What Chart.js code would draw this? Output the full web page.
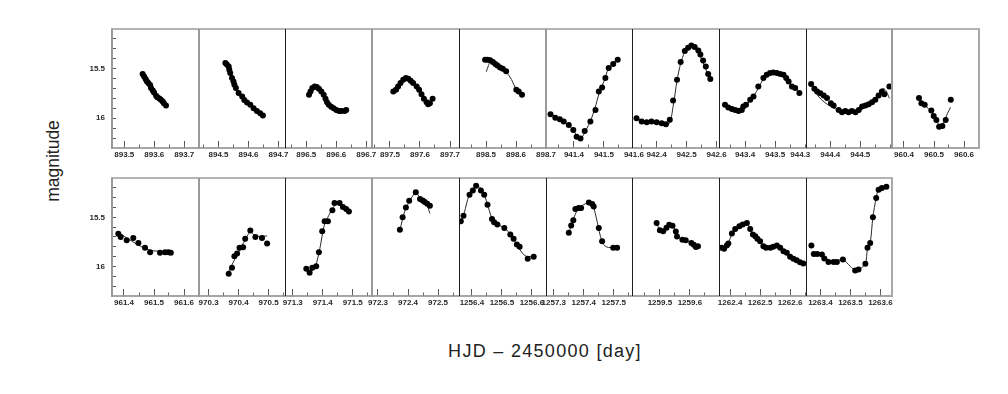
<!DOCTYPE html>
<html><head><meta charset="utf-8">
<script src="https://cdn.jsdelivr.net/npm/chart.js@4.4.1/dist/chart.umd.min.js"></script>
<style>
html,body{margin:0;padding:0;background:#fff;}
#wrap{position:relative;width:1008px;height:394px;overflow:hidden;background:#fff;font-family:"Liberation Sans",Arial,sans-serif;}
#wrap canvas{position:absolute;}
#ylab{position:absolute;left:52.5px;top:161px;transform:translate(-50%,-50%) rotate(-90deg);font-size:17.5px;color:#222;white-space:nowrap;}
#xlab{position:absolute;left:545px;top:351px;transform:translate(-50%,-50%);font-size:18px;letter-spacing:1.3px;color:#222;white-space:nowrap;}
</style></head><body>
<div id="wrap"><div id="ylab">magnitude</div><div id="xlab">HJD – 2450000 [day]</div></div>
<script>
// ---------- data (HJD - 2450000, magnitude) ----------
const t_893 = [893.561,893.566,893.571,893.575,893.580,893.586,893.589,893.595,893.599,893.606,893.610,893.617,893.622,893.628,893.632,893.639];
const m_893 = [15.554,15.578,15.604,15.628,15.645,15.665,15.695,15.720,15.740,15.773,15.787,15.801,15.814,15.831,15.848,15.872];

const t_894 = [894.523,894.528,894.534,894.536,894.539,894.545,894.550,894.553,894.558,894.567,894.579,894.586,894.595,894.606,894.617,894.628,894.639,894.648];
const m_894 = [15.442,15.459,15.477,15.510,15.544,15.594,15.629,15.662,15.696,15.746,15.781,15.815,15.842,15.865,15.899,15.926,15.949,15.973];

const t_896 = [896.509,896.514,896.520,896.528,896.535,896.542,896.550,896.558,896.564,896.569,896.575,896.583,896.591,896.600,896.609,896.617,896.628,896.633];
const m_896 = [15.764,15.730,15.696,15.680,15.686,15.703,15.730,15.764,15.804,15.838,15.865,15.883,15.899,15.916,15.926,15.926,15.926,15.916];

const t_897 = [897.511,897.520,897.527,897.535,897.544,897.553,897.561,897.569,897.577,897.589,897.597,897.605,897.613,897.622,897.627,897.633,897.642];
const m_897 = [15.730,15.713,15.680,15.645,15.612,15.594,15.601,15.622,15.645,15.680,15.713,15.757,15.804,15.838,15.858,15.848,15.804];

const t_898 = [898.497,898.505,898.514,898.523,898.531,898.538,898.547,898.556,898.567,898.601,898.609,898.620];
const m_898 = [15.409,15.409,15.416,15.432,15.452,15.467,15.487,15.500,15.527,15.713,15.730,15.764];
const ft_898 = [898.501,898.508,898.514,898.523,898.538,898.556,898.567,898.585,898.601,898.620];
const fm_898 = [15.53,15.47,15.43,15.43,15.465,15.50,15.53,15.61,15.71,15.77];

const t_941 = [941.322,941.338,941.353,941.366,941.383,941.398,941.409,941.422,941.436,941.455,941.472,941.483,941.494,941.505,941.516,941.531,941.546];
const m_941 = [15.959,15.994,16.010,16.034,16.068,16.119,16.187,16.203,16.129,16.034,15.916,15.730,15.690,15.594,15.493,15.452,15.409];
const ft_941 = [941.322,941.350,941.380,941.400,941.415,941.425,941.440,941.455,941.470,941.485,941.500,941.515,941.530,941.546];
const fm_941 = [15.96,16.01,16.06,16.13,16.20,16.20,16.12,16.03,15.90,15.74,15.63,15.50,15.45,15.41];

const t_942 = [942.333,942.350,942.367,942.383,942.400,942.417,942.431,942.444,942.455,942.468,942.480,942.494,942.505,942.516,942.527,942.539,942.546,942.555,942.564,942.572,942.579];
const m_942 = [16.000,16.034,16.040,16.034,16.040,16.051,16.061,16.014,15.820,15.613,15.434,15.323,15.289,15.266,15.282,15.317,15.357,15.418,15.479,15.553,15.604];
const ft_942 = [942.333,942.360,942.400,942.440,942.455,942.468,942.480,942.494,942.510,942.525,942.540,942.555,942.570,942.579];
const fm_942 = [16.00,16.04,16.05,16.06,15.88,15.62,15.45,15.33,15.27,15.27,15.34,15.44,15.55,15.62];

const t_943 = [943.333,943.344,943.356,943.367,943.378,943.389,943.394,943.403,943.417,943.428,943.444,943.461,943.472,943.483,943.494,943.506,943.517,943.528,943.537,943.545,943.556,943.567,943.581];
const m_943 = [15.865,15.892,15.906,15.916,15.926,15.916,15.882,15.865,15.814,15.781,15.680,15.594,15.561,15.544,15.538,15.544,15.554,15.561,15.594,15.629,15.680,15.696,15.746];
const ft_943 = [943.333,943.360,943.380,943.400,943.430,943.460,943.480,943.500,943.520,943.540,943.560,943.581];
const fm_943 = [15.86,15.91,15.92,15.88,15.77,15.61,15.55,15.54,15.56,15.61,15.68,15.74];

const t_944 = [944.336,944.347,944.356,944.367,944.378,944.389,944.402,944.411,944.428,944.439,944.450,944.461,944.472,944.484,944.495,944.506,944.517,944.528,944.539,944.550,944.561,944.572,944.580,944.597];
const m_944 = [15.655,15.703,15.730,15.747,15.771,15.797,15.848,15.872,15.916,15.939,15.926,15.939,15.926,15.939,15.916,15.882,15.872,15.858,15.838,15.814,15.771,15.730,15.757,15.680];
const ft_944 = [944.336,944.350,944.370,944.390,944.420,944.450,944.480,944.510,944.540,944.560,944.575,944.585,944.597];
const fm_944 = [15.66,15.74,15.81,15.86,15.91,15.94,15.94,15.90,15.84,15.76,15.70,15.72,15.80];

const t_960 = [960.450,960.458,960.469,960.491,960.499,960.508,960.517,960.528,960.539,960.556];
const m_960 = [15.797,15.848,15.865,15.923,15.977,16.017,16.085,16.078,16.017,15.814];
const ft_960 = [960.450,960.470,960.490,960.510,960.520,960.530,960.545,960.555];
const fm_960 = [15.80,15.87,15.93,16.03,16.08,16.06,15.95,15.89];

const t_961 = [961.381,961.389,961.409,961.431,961.448,961.470,961.487,961.520,961.537,961.548,961.556];
const m_961 = [15.668,15.699,15.734,15.710,15.760,15.810,15.855,15.861,15.855,15.855,15.861];
const ft_961 = [961.378,961.481,961.559];
const fm_961 = [15.65,15.83,15.845];

const t_970 = [970.367,970.378,970.386,970.395,970.403,970.415,970.422,970.439,970.456,970.478,970.495];
const m_970 = [16.074,16.013,15.896,15.868,15.810,15.804,15.719,15.635,15.699,15.709,15.767];
const ft_970 = [970.367,970.395,970.420,970.439,970.456,970.495];
const fm_970 = [16.05,15.88,15.74,15.65,15.69,15.69];

const t_971 = [971.345,971.356,971.365,971.378,971.387,971.398,971.406,971.417,971.432,971.439,971.456,971.467,971.478,971.487];
const m_971 = [16.023,16.064,16.013,15.997,15.855,15.642,15.541,15.541,15.429,15.354,15.354,15.395,15.416,15.440];
const ft_971 = [971.345,971.360,971.375,971.390,971.405,971.420,971.435,971.450,971.465,971.487];
const fm_971 = [16.02,16.05,16.00,15.82,15.58,15.48,15.40,15.35,15.37,15.44];

const t_972 = [972.373,972.382,972.393,972.404,972.426,972.440,972.449,972.456,972.464,972.473];
const m_972 = [15.625,15.500,15.399,15.331,15.246,15.313,15.328,15.344,15.361,15.381];
const ft_972 = [972.373,972.390,972.410,972.426,972.440,972.460,972.473];
const fm_972 = [15.63,15.43,15.31,15.25,15.30,15.35,15.46];

const t_1256 = [1256.363,1256.372,1256.392,1256.403,1256.414,1256.430,1256.441,1256.452,1256.467,1256.474,1256.485,1256.508,1256.528,1256.539,1256.550,1256.559,1256.586,1256.606];
const m_1256 = [15.541,15.483,15.270,15.226,15.179,15.226,15.270,15.371,15.516,15.551,15.574,15.608,15.675,15.719,15.777,15.800,15.922,15.902];
const ft_1256 = [1256.363,1256.375,1256.390,1256.410,1256.425,1256.440,1256.455,1256.470,1256.490,1256.510,1256.530,1256.550,1256.570,1256.585,1256.606];
const fm_1256 = [15.56,15.45,15.28,15.19,15.19,15.26,15.40,15.53,15.58,15.61,15.68,15.78,15.87,15.90,15.89];

const t_1257 = [1257.350,1257.358,1257.365,1257.372,1257.383,1257.391,1257.417,1257.428,1257.433,1257.450,1257.461,1257.498,1257.511];
const m_1257 = [15.658,15.584,15.530,15.415,15.405,15.405,15.348,15.364,15.389,15.608,15.743,15.810,15.810];
const ft_1257 = [1257.350,1257.365,1257.380,1257.400,1257.420,1257.430,1257.445,1257.460,1257.475,1257.511];
const fm_1257 = [15.66,15.52,15.42,15.37,15.35,15.37,15.55,15.74,15.80,15.81];

const t_1259 = [1259.489,1259.500,1259.511,1259.522,1259.531,1259.542,1259.553,1259.557,1259.575,1259.586,1259.605,1259.613,1259.620,1259.627];
const m_1259 = [15.557,15.632,15.642,15.605,15.575,15.585,15.643,15.694,15.727,15.734,15.761,15.778,15.801,15.795];

const t_1262 = [1262.372,1262.380,1262.389,1262.394,1262.406,1262.417,1262.431,1262.442,1262.456,1262.467,1262.476,1262.484,1262.491,1262.500,1262.511,1262.520,1262.534,1262.544,1262.556,1262.567,1262.578,1262.589,1262.600,1262.611,1262.622,1262.633,1262.644];
const m_1262 = [15.810,15.820,15.787,15.767,15.665,15.618,15.591,15.574,15.557,15.618,15.675,15.693,15.719,15.743,15.794,15.810,15.810,15.800,15.787,15.810,15.845,15.861,15.902,15.922,15.937,15.957,15.970];

const t_1263 = [1263.370,1263.378,1263.389,1263.405,1263.413,1263.427,1263.444,1263.455,1263.475,1263.516,1263.527,1263.550,1263.557,1263.566,1263.575,1263.586,1263.594,1263.605,1263.620];
const m_1263 = [15.787,15.872,15.872,15.878,15.919,15.953,15.953,15.953,15.929,16.041,16.031,15.973,15.810,15.760,15.500,15.303,15.219,15.202,15.189];
const ft_1263 = [1263.378,1263.410,1263.440,1263.475,1263.500,1263.516,1263.530,1263.550,1263.557,1263.566,1263.575,1263.586,1263.594,1263.620];
const fm_1263 = [15.87,15.90,15.95,15.93,16.00,16.04,16.03,15.97,15.82,15.76,15.50,15.30,15.22,15.19];

// axis ranges / tick labels
const xStart = [893.459,894.435,896.429,897.440,898.410,941.307,942.318,943.313,944.319,960.360,
                961.360,970.268,971.274,972.280,1256.357,1257.274,1259.407,1262.363,1263.352];
const xTickLabels = [[893.5,893.6,893.7],[894.5,894.6,894.7],[896.5,896.6,896.7],[897.5,897.6,897.7],[898.5,898.6,898.7],
  [941.4,941.5,941.6],[942.4,942.5,942.6],[943.4,943.5],[944.3,944.4,944.5],[960.4,960.5,960.6],
  [961.4,961.5,961.6],[970.3,970.4,970.5],[971.3,971.4,971.5],[972.3,972.4,972.5],[1256.4,1256.5,1256.6],
  [1257.3,1257.4,1257.5],[1259.5,1259.6],[1262.4,1262.5,1262.6],[1263.4,1263.5,1263.6]];
const yRange = [15.1, 16.3];
const yTickValues = [15.2,15.3,15.4,15.5,15.6,15.7,15.8,15.9,16.0,16.1,16.2];
const yTickLabels = [15.5, 16];

// ---------- layout ----------
const panels = [
  [t_893,m_893,null,null],[t_894,m_894,null,null],[t_896,m_896,null,null],[t_897,m_897,null,null],[t_898,m_898,ft_898,fm_898],
  [t_941,m_941,ft_941,fm_941],[t_942,m_942,ft_942,fm_942],[t_943,m_943,ft_943,fm_943],[t_944,m_944,ft_944,fm_944],[t_960,m_960,ft_960,fm_960],
  [t_961,m_961,ft_961,fm_961],[t_970,m_970,ft_970,fm_970],[t_971,m_971,ft_971,fm_971],[t_972,m_972,ft_972,fm_972],[t_1256,m_1256,ft_1256,fm_1256],
  [t_1257,m_1257,ft_1257,fm_1257],[t_1259,m_1259,null,null],[t_1262,m_1262,null,null],[t_1263,m_1263,ft_1263,fm_1263]
];
const rowOf = i => i < 10 ? 0 : 1;
const colOf = i => i < 10 ? i : i - 10;
const rowCount = [10, 9];
const edgeStyle = ['g','g','d','g','d','g','d','d','d','g', 'g','g','d','g','d','d','d','d','d'];

const ROW_TOP = [29, 178], ROW_H = [119, 118];
const LEFT0 = 112, COLW = 86.7, PX_PER_DAY = 300;
const PADL = 45, YAXW = 40, PADR = 30, PADT = 6, XAXH = 24;
const FONT = {family: "'Liberation Sans', Arial, sans-serif", size: 8, weight: 'bold'};

const framePlugin = {
  id: 'frame',
  afterDraw(chart) {
    const o = chart.options.plugins.frame;
    const a = chart.chartArea, c = chart.ctx;
    c.save();
    c.lineCap = 'butt';
    c.strokeStyle = '#b4b4b4'; c.lineWidth = 2;
    c.beginPath(); c.moveTo(a.left - 1, a.top); c.lineTo(a.right + 1, a.top); c.stroke();
    c.strokeStyle = '#8a8a8a'; c.lineWidth = 1.6;
    c.beginPath(); c.moveTo(a.left, a.bottom); c.lineTo(a.right, a.bottom); c.stroke();
    if (o.edge === 'g') { c.strokeStyle = '#9a9a9a'; c.lineWidth = 2; c.beginPath(); c.moveTo(a.left, a.top); c.lineTo(a.left, a.bottom + 1); c.stroke(); }
    else { c.strokeStyle = '#1e1e1e'; c.lineWidth = 1; c.beginPath(); c.moveTo(a.left + 0.5, a.top); c.lineTo(a.left + 0.5, a.bottom); c.stroke(); }
    if (o.last) { c.strokeStyle = '#a8a8a8'; c.lineWidth = 2; c.beginPath(); c.moveTo(a.right, a.top); c.lineTo(a.right, a.bottom + 1); c.stroke(); }
    c.restore();
  }
};

const zeroPad = s => { s.paddingLeft = 0; s.paddingRight = 0; s.paddingTop = 0; s.paddingBottom = 0; };
const wrap = document.getElementById('wrap');

panels.forEach((p, i) => {
  const row = rowOf(i), col = colOf(i);
  const L = Math.round(LEFT0 + col * COLW), R = Math.round(LEFT0 + (col + 1) * COLW);
  const w = R - L, T = ROW_TOP[row], h = ROW_H[row];
  const xmin = xStart[i], xmax = xStart[i] + w / PX_PER_DAY;
  const cv = document.createElement('canvas');
  cv.width = w + PADL + PADR; cv.height = h + PADT + XAXH;
  cv.style.left = (L - PADL) + 'px'; cv.style.top = (T - PADT) + 'px';
  wrap.appendChild(cv);

  const [tt, mm, ft, fm] = p;
  const pts = tt.map((x, k) => ({x: x, y: mm[k]}));
  const fit = ft ? ft.map((x, k) => ({x: x, y: fm[k]})) : pts;
  const majors = xTickLabels[i];
  const minors = [];
  for (let k = Math.ceil(xmin / 0.05 - 1e-9); k * 0.05 <= xmax + 1e-9; k++) minors.push(Math.round(k * 5) / 100);
  const inRange = v => v >= xmin - 0.004 && v <= xmax + 0.004;
  const showY = col === 0;

  new Chart(cv, {
    type: 'scatter',
    data: {datasets: [
      {data: pts, pointRadius: 3, pointHoverRadius: 3, backgroundColor: '#000', borderWidth: 0, showLine: false, order: 1},
      {data: fit, showLine: true, pointRadius: 0, borderColor: '#2a2a2a', borderWidth: 1, tension: 0.3, order: 2, fill: false}
    ]},
    options: {
      responsive: false, animation: false, devicePixelRatio: 1, events: [],
      layout: {padding: {left: showY ? PADL - YAXW : PADL, right: PADR, top: PADT, bottom: 0}},
      plugins: {legend: {display: false}, tooltip: {enabled: false}, frame: {edge: edgeStyle[i], last: col === rowCount[row] - 1}},
      scales: {
        x: {
          type: 'linear', position: 'bottom', weight: 1, min: xmin, max: xmax,
          afterBuildTicks: s => { s.ticks = majors.map(v => ({value: v})); },
          afterFit: s => { s.height = XAXH; zeroPad(s); },
          border: {display: false},
          grid: {drawOnChartArea: false, drawTicks: true, tickLength: -7, tickWidth: 1,
                 tickColor: ctx => (ctx.tick && inRange(ctx.tick.value)) ? '#555' : 'rgba(0,0,0,0)'},
          ticks: {autoSkip: false, maxRotation: 0, minRotation: 0, padding: 9, font: FONT, color: '#2a2a2a',
                  callback: v => Number(v).toFixed(1)}
        },
        x2: {
          type: 'linear', position: 'bottom', weight: 0, min: xmin, max: xmax,
          afterBuildTicks: s => { s.ticks = minors.map(v => ({value: v})); },
          afterFit: s => { s.height = 0; zeroPad(s); },
          border: {display: false},
          grid: {drawOnChartArea: false, drawTicks: true, tickLength: -3.5, tickWidth: 1, tickColor: '#666'},
          ticks: {display: false}
        },
        y: {
          type: 'linear', position: 'left', min: yRange[0], max: yRange[1], reverse: true,
          display: showY,
          afterBuildTicks: s => { s.ticks = yTickValues.map(v => ({value: v})); },
          afterFit: s => { s.width = showY ? YAXW : 0; zeroPad(s); },
          border: {display: false},
          grid: {drawOnChartArea: false, drawTicks: true, tickLength: -4, tickWidth: 1, tickColor: '#555'},
          ticks: {autoSkip: false, padding: 11, font: FONT, color: '#2a2a2a',
                  callback: v => yTickLabels.some(q => Math.abs(q - v) < 1e-6) ? String(Number(v)) : ''}
        }
      }
    },
    plugins: [framePlugin]
  });
});
</script>
</body></html>
